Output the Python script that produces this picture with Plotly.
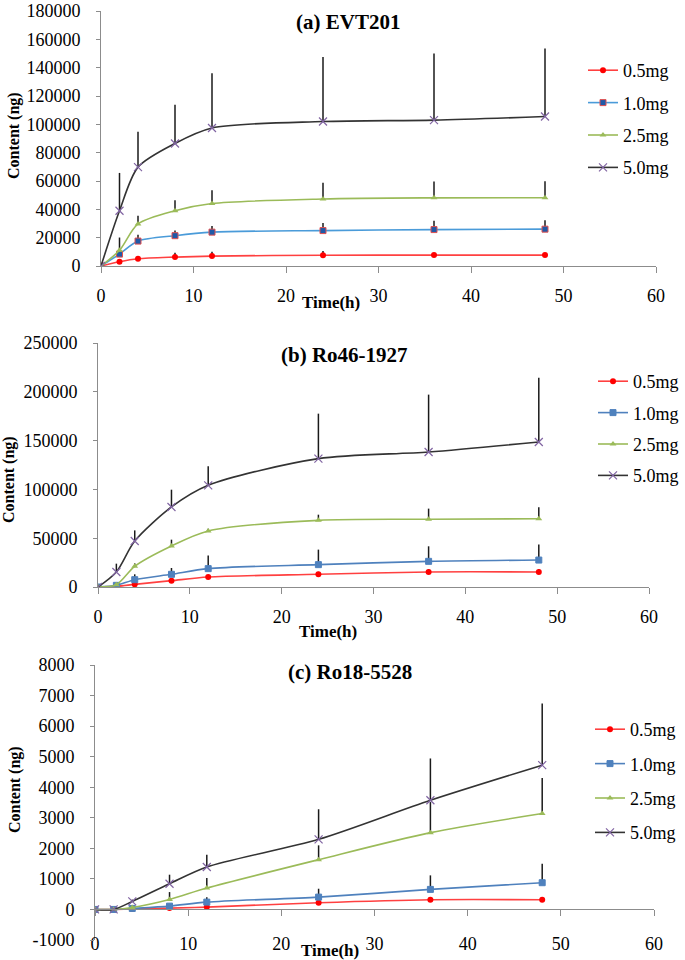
import plotly.graph_objects as go

# ---------------- data ----------------
time_h = [0, 2, 4, 8, 12, 24, 36, 48]
dose_labels = ["0.5mg", "1.0mg", "2.5mg", "5.0mg"]

# (a) EVT201
a_05 = [0, 3000, 5100, 6300, 7000, 7600, 7700, 7700]
a_05_err = [0, 800, 1500, 3000, 3000, 3000, 1500, 1500]
a_10 = [0, 8400, 17600, 21400, 23900, 25000, 25700, 26000]
a_10_err = [0, 2500, 4500, 3700, 4400, 5300, 6300, 6300]
a_25 = [0, 11100, 29700, 39000, 44100, 47300, 48100, 48200]
a_25_err = [0, 9000, 5800, 7400, 9300, 11400, 11600, 11700]
a_50 = [0, 39000, 69800, 86500, 97400, 102000, 103000, 105500]
a_50_err = [0, 26700, 24900, 27400, 38600, 45500, 47000, 48000]

# (b) Ro46-1927
b_05 = [0, 700, 2700, 6500, 10200, 13000, 15400, 15400]
b_05_err = [0, 300, 800, 1500, 2000, 2500, 3000, 3000]
b_10 = [0, 1700, 7500, 13000, 18800, 22900, 26300, 27600]
b_10_err = [0, 1000, 5500, 6500, 13600, 15400, 15400, 15900]
b_25 = [0, 2400, 21200, 42000, 57400, 68300, 69400, 70000]
b_25_err = [0, 1500, 3000, 6500, 2400, 5800, 10900, 11700]
b_50 = [0, 15400, 47100, 82000, 104200, 131500, 138300, 148600]
b_50_err = [0, 8500, 10900, 17700, 19400, 46100, 58800, 65900]

# (c) Ro18-5528
c_05 = [0, 0, 11, 44, 76, 219, 317, 317]
c_05_err = [0, 0, 10, 20, 40, 60, 60, 60]
c_10 = [0, 0, 33, 109, 240, 404, 656, 875]
c_10_err = [0, 0, 20, 60, 160, 274, 459, 623]
c_25 = [0, 0, 66, 328, 699, 1628, 2514, 3138]
c_25_err = [0, 0, 30, 240, 328, 470, 1000, 1167]
c_50 = [0, 0, 262, 841, 1388, 2295, 3574, 4721]
c_50_err = [0, 0, 60, 296, 404, 984, 1367, 2023]

# tick labels
x_ticks = [0, 10, 20, 30, 40, 50, 60]
a_yticks = [0, 20000, 40000, 60000, 80000, 100000, 120000, 140000, 160000, 180000]
b_yticks = [0, 50000, 100000, 150000, 200000, 250000]
c_yticks = [-1000, 0, 1000, 2000, 3000, 4000, 5000, 6000, 7000, 8000]
c_ytick_text = ["-1000", "0", "1000", "2000", "3000", "4000", "5000", "6000", "7000", "8000"]

panel_titles = ["(a) EVT201", "(b) Ro46-1927", "(c) Ro18-5528"]
x_title = "Time(h)"
y_title = "Content (ng)"

# ---------------- layout geometry (pixels) ----------------
W, H = 685, 960
FONT = "Liberation Serif, Times New Roman, serif"

def px_x(p):
    return p / W

def px_y(p):
    return 1 - p / H

panels = [
    dict(series=[(a_05, a_05_err), (a_10, a_10_err), (a_25, a_25_err), (a_50, a_50_err)],
         xdom=(101, 656), ydom=(266, 11), yrange=(0, 180000),
         yticks=a_yticks, ytext=[str(v) for v in a_yticks], xstandoff=7,
         blue_line="#4A9BD9", blue_fill="#1F5AA8", blue_edge="#E05050"),
    dict(series=[(b_05, b_05_err), (b_10, b_10_err), (b_25, b_25_err), (b_50, b_50_err)],
         xdom=(98, 649), ydom=(587, 343), yrange=(0, 250000),
         yticks=b_yticks, ytext=[str(v) for v in b_yticks], xstandoff=7,
         blue_line="#4F81BD", blue_fill="#4F81BD", blue_edge="#4F81BD"),
    dict(series=[(c_05, c_05_err), (c_10, c_10_err), (c_25, c_25_err), (c_50, c_50_err)],
         xdom=(95, 654), ydom=(940, 665), yrange=(-1000, 8000),
         yticks=c_yticks, ytext=c_ytick_text, xstandoff=12,
         blue_line="#4F81BD", blue_fill="#4F81BD", blue_edge="#4F81BD"),
]

# legend: (left px, top px, gap between items)
legend_geom = [(583, 52, 6), (593, 363, 5), (590, 711, 8)]
title_pos = [(348, 22), (344, 355), (350, 672)]
xtitle_pos = [(331, 302), (328, 631), (330, 950)]
ytitle_pos = [(14, 136), (9, 480), (15, 790)]

fig = go.Figure()
layout = dict(
    width=W, height=H, autosize=False,
    margin=dict(l=0, r=0, t=0, b=0, pad=0, autoexpand=False),
    paper_bgcolor="white", plot_bgcolor="white",
    font=dict(family=FONT, size=18, color="black"),
    showlegend=True,
    annotations=[],
)

for i, p in enumerate(panels):
    n = i + 1
    xa = "x" if n == 1 else f"x{n}"
    ya = "y" if n == 1 else f"y{n}"
    leg = "legend" if n == 1 else f"legend{n}"
    styles = [
        dict(line="#FF4040", marker=dict(symbol="circle", size=6, color="#FF0000")),
        dict(line=p["blue_line"], marker=dict(symbol="square", size=6, color=p["blue_fill"],
                                               line=dict(color=p["blue_edge"], width=1))),
        dict(line="#9BBB59", marker=dict(symbol="triangle-up", size=6, color="#9BBB59")),
        dict(line="#333333", marker=dict(symbol="x-thin", size=8,
                                         line=dict(color="#8064A2", width=1.2), color="#8064A2")),
    ]
    for k, ((vals, errs), st) in enumerate(zip(p["series"], styles)):
        fig.add_trace(go.Scatter(
            x=time_h, y=vals, name=dose_labels[k], mode="lines+markers",
            line=dict(color=st["line"], width=1.6, shape="spline", smoothing=0.8),
            marker=st["marker"],
            error_y=dict(type="data", array=errs, symmetric=False,
                         arrayminus=[0] * len(errs), color="#1a1a1a", thickness=1.5, width=0),
            xaxis=xa, yaxis=ya, legend=leg, legendgroup=f"{n}-{k}",
        ))

    d0, d1 = px_y(p["ydom"][0]), px_y(p["ydom"][1])
    xaxis = dict(
        domain=[px_x(p["xdom"][0]), px_x(p["xdom"][1])], range=[0, 60],
        tickmode="array", tickvals=x_ticks, ticktext=[str(v) for v in x_ticks],
        showline=True, linecolor="#8C8C8C", linewidth=1, ticks="outside", ticklen=6,
        tickcolor="#8C8C8C", showgrid=False, zeroline=False, automargin=False,
        ticklabeloverflow="allow",
        tickfont=dict(family=FONT, size=18, color="black"), ticklabelstandoff=p["xstandoff"],
        anchor=ya,
    )
    if n == 3:
        lo, hi = p["yrange"]
        xaxis["anchor"] = "free"
        xaxis["position"] = d0 + (0 - lo) / (hi - lo) * (d1 - d0)
    yaxis = dict(
        domain=[d0, d1], range=list(p["yrange"]),
        tickmode="array", tickvals=p["yticks"], ticktext=p["ytext"],
        showline=True, linecolor="#8C8C8C", linewidth=1, ticks="outside", ticklen=4,
        tickcolor="#8C8C8C", showgrid=False, zeroline=False, automargin=False,
        ticklabeloverflow="allow",
        tickfont=dict(family=FONT, size=18, color="black"), ticklabelstandoff=12,
        anchor=xa,
    )
    layout["xaxis" if n == 1 else f"xaxis{n}"] = xaxis
    layout["yaxis" if n == 1 else f"yaxis{n}"] = yaxis

    lx, ly, gap = legend_geom[i]
    layout[leg] = dict(
        x=px_x(lx), y=px_y(ly), xanchor="left", yanchor="top",
        bgcolor="rgba(0,0,0,0)", borderwidth=0,
        font=dict(family=FONT, size=18, color="black"),
        itemwidth=30, tracegroupgap=gap,
    )

    tx, ty = title_pos[i]
    layout["annotations"].append(dict(
        text=f"<b>{panel_titles[i]}</b>", x=px_x(tx), y=px_y(ty), xref="paper", yref="paper",
        showarrow=False, xanchor="center", yanchor="middle",
        font=dict(family=FONT, size=21, color="black")))
    ax_, ay_ = xtitle_pos[i]
    layout["annotations"].append(dict(
        text=f"<b>{x_title}</b>", x=px_x(ax_), y=px_y(ay_), xref="paper", yref="paper",
        showarrow=False, xanchor="center", yanchor="middle",
        font=dict(family=FONT, size=17, color="black")))
    yx, yy = ytitle_pos[i]
    layout["annotations"].append(dict(
        text=f"<b>{y_title}</b>", x=px_x(yx), y=px_y(yy), xref="paper", yref="paper",
        showarrow=False, xanchor="center", yanchor="middle", textangle=-90,
        font=dict(family=FONT, size=16, color="black")))

fig.update_layout(**layout)
fig.write_html(
    "out.html",
    config={"displayModeBar": False},
    post_script=(
        "document.documentElement.style.margin='0';"
        "document.documentElement.style.padding='0';"
        "document.documentElement.style.overflow='hidden';"
        "document.body.style.margin='0';"
        "document.body.style.padding='0';"
        "document.body.style.overflow='hidden';"
    ),
)
